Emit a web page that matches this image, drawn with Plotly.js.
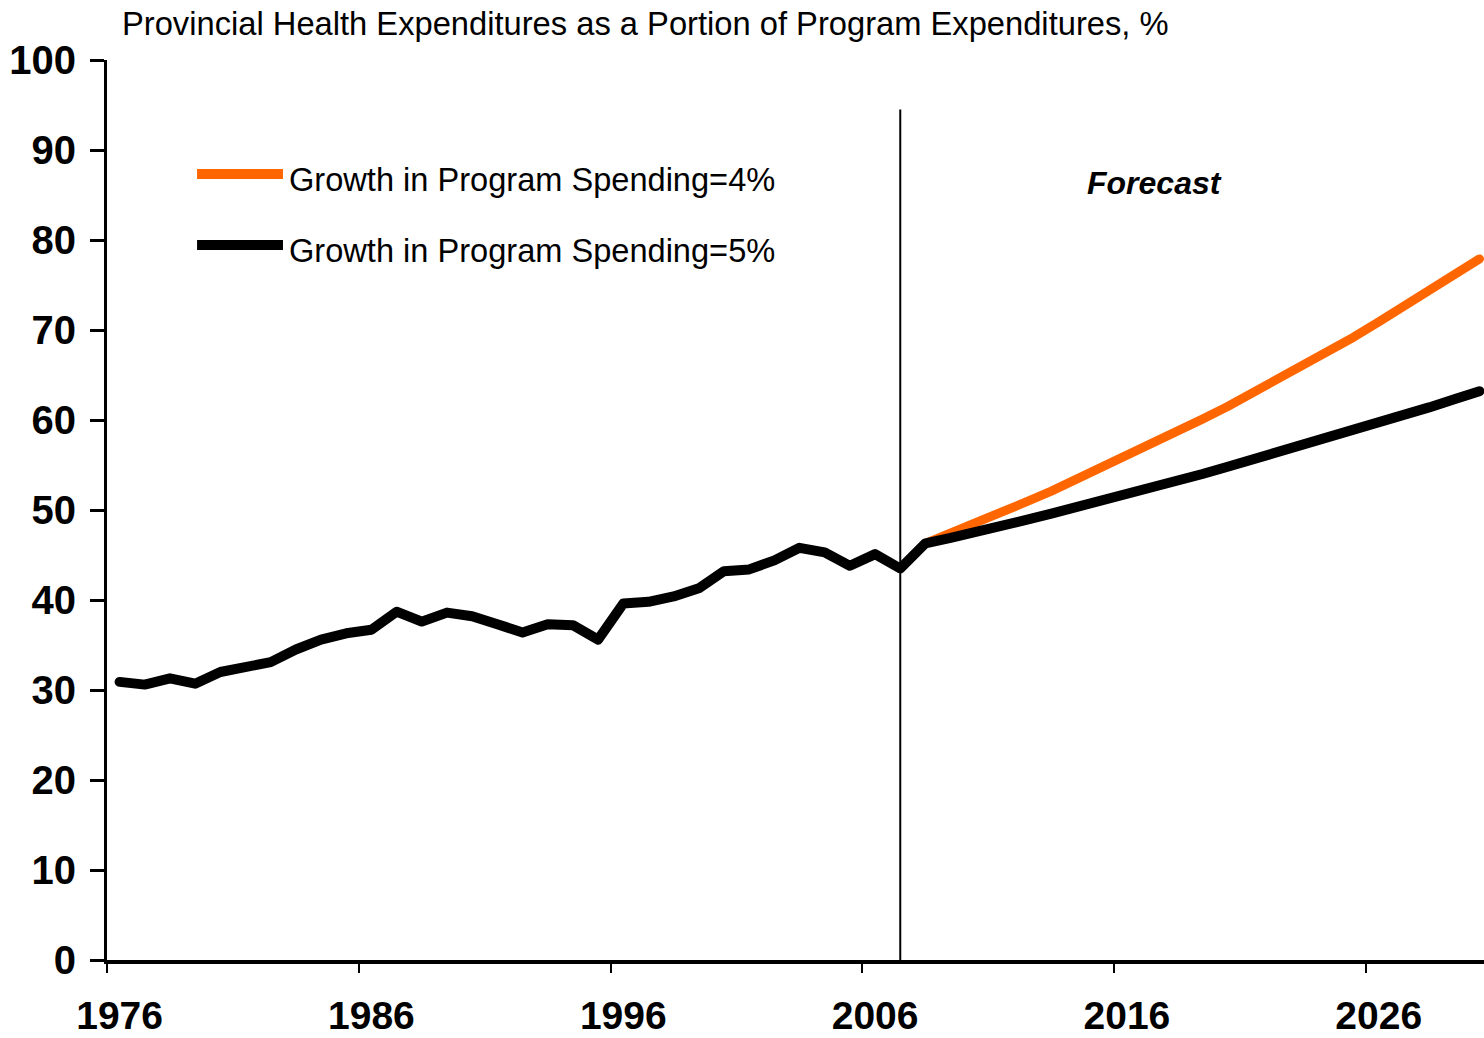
<!DOCTYPE html>
<html><head><meta charset="utf-8">
<script src="https://cdn.plot.ly/plotly-3.0.1.min.js"></script>
<style>
html,body{margin:0;padding:0;background:#fff}
path.js-line{stroke-linejoin:round;stroke-linecap:round}
</style>
</head><body><div id="chart" style="width:1484px;height:1038px"></div>
<script>
// ---- data ----
const histYears = [1976,1977,1978,1979,1980,1981,1982,1983,1984,1985,1986,1987,1988,1989,1990,1991,1992,1993,1994,1995,1996,1997,1998,1999,2000,2001,2002,2003,2004,2005,2006,2007];
const histValues = [30.9,30.6,31.3,30.7,32.0,32.6,33.1,34.5,35.6,36.3,36.7,38.7,37.6,38.6,38.2,37.3,36.4,37.3,37.2,35.6,39.6,39.8,40.4,41.3,43.2,43.4,44.4,45.8,45.3,43.8,45.1,43.5];
const forecastYears = [2008,2009,2010,2011,2012,2013,2014,2015,2016,2017,2018,2019,2020,2021,2022,2023,2024,2025,2026,2027,2028,2029,2030];
const growth4Values = [46.3,47.4,48.5,49.7,50.9,52.1,53.4,54.7,56.0,57.3,58.7,60.1,61.5,63.0,64.5,66.0,67.6,69.2,70.9,72.6,74.3,76.1,77.9];
const growth5Values = [46.3,46.9,47.5,48.2,48.9,49.6,50.3,51.0,51.7,52.5,53.2,54.0,54.8,55.6,56.4,57.2,58.0,58.8,59.7,60.5,61.4,62.3,63.2];
const seriesNames = ["Growth in Program Spending=4%","Growth in Program Spending=5%"];
const tickLabelYears = [1976,1986,1996,2006,2016,2026];
const tickBoundaryYears = [1975.5,1985.5,1995.5,2005.5,2015.5,2025.5];
const forecastStartYear = 2007;
const titleText = "Provincial Health Expenditures as a Portion of Program Expenditures, %";
const forecastLabel = "Forecast";

// ---- chart ----
const FONT = "Liberation Sans, Arial, sans-serif";
const ORANGE = "#FF6600";
const X_RANGE = [1975.5, 2030.18];

const traces = [
  {x: forecastYears, y: growth4Values, name: seriesNames[0], type: "scatter", mode: "lines",
   line: {color: ORANGE, width: 9}, xaxis: "x", yaxis: "y", showlegend: false, hoverinfo: "x+y", cliponaxis: false},
  {x: histYears.concat(forecastYears), y: histValues.concat(growth5Values), name: seriesNames[1],
   type: "scatter", mode: "lines", line: {color: "#000000", width: 10},
   xaxis: "x2", yaxis: "y", showlegend: false, hoverinfo: "x+y", cliponaxis: false}
];

const layout = {
  width: 1484, height: 1038,
  margin: {l: 107, r: 0, t: 60, b: 78},
  paper_bgcolor: "#ffffff", plot_bgcolor: "#ffffff",
  font: {family: FONT, color: "#000"},
  showlegend: false,
  title: {text: titleText, xref: "container", x: 122/1484, xanchor: "left",
          yref: "container", y: 1 - 24/1038, yanchor: "middle",
          font: {family: FONT, size: 32.7, color: "#000"}},
  xaxis: {range: X_RANGE, tickmode: "array", tickvals: tickLabelYears,
          ticktext: tickLabelYears.map(String), ticks: "", showgrid: false, zeroline: false,
          showline: true, linecolor: "#000", linewidth: 4, ticklabelstandoff: 18,
          tickfont: {family: FONT, size: 39, weight: 700, color: "#000"}, fixedrange: true},
  xaxis2: {range: X_RANGE, overlaying: "x", anchor: "y", tickmode: "array",
           tickvals: tickBoundaryYears, ticks: "outside", ticklen: 12, tickwidth: 2, tickcolor: "#000",
           showticklabels: false, showgrid: false, zeroline: false, showline: false, fixedrange: true},
  yaxis: {range: [0, 100], dtick: 10, tick0: 0, ticks: "outside", ticklen: 14, tickwidth: 3, tickcolor: "#000",
          showline: true, linecolor: "#000", linewidth: 3, showgrid: false, zeroline: false,
          ticklabelstandoff: 6,
          tickfont: {family: FONT, size: 40, weight: 700, color: "#000"}, fixedrange: true},
  shapes: [
    {type: "line", xref: "x", yref: "y", x0: forecastStartYear, x1: forecastStartYear, y0: 0, y1: 94.5,
     line: {color: "#000", width: 2}},
    {type: "line", xref: "paper", yref: "paper", x0: 0.0654, x1: 0.1278, y0: 0.8733, y1: 0.8733,
     line: {color: ORANGE, width: 10}},
    {type: "line", xref: "paper", yref: "paper", x0: 0.0654, x1: 0.1278, y0: 0.7944, y1: 0.7944,
     line: {color: "#000", width: 10}}
  ],
  annotations: [
    {text: seriesNames[0], xref: "paper", yref: "paper", x: 0.1308, y: 0.8667, xanchor: "left", yanchor: "middle",
     showarrow: false, font: {family: FONT, size: 32.6, color: "#000"}},
    {text: seriesNames[1], xref: "paper", yref: "paper", x: 0.1308, y: 0.7878, xanchor: "left", yanchor: "middle",
     showarrow: false, font: {family: FONT, size: 32.6, color: "#000"}},
    {text: "<b><i>" + forecastLabel + "</i></b>", xref: "x", yref: "y", x: 2017.1, y: 86.3,
     xanchor: "center", yanchor: "middle", showarrow: false,
     font: {family: FONT, size: 32, color: "#000"}}
  ]
};

Plotly.newPlot("chart", traces, layout, {staticPlot: true, displayModeBar: false});
</script>
</body></html>
